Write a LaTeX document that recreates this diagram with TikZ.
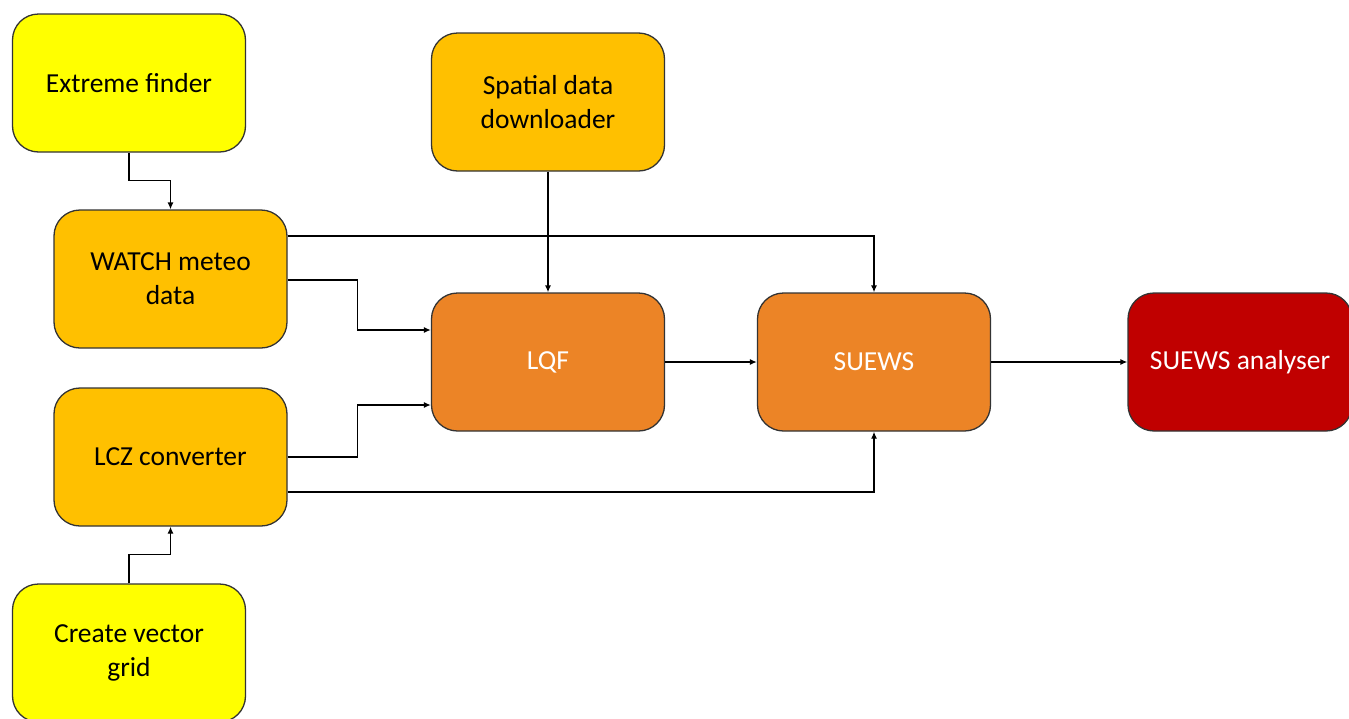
\documentclass[tikz,border=0pt]{standalone}
\usepackage{fontspec}
\setmainfont{Carlito}
\usetikzlibrary{arrows.meta,positioning}
\definecolor{tooly}{HTML}{FFFF00}
\definecolor{toolg}{HTML}{FFC000}
\definecolor{toolo}{HTML}{EC8426}
\definecolor{toolr}{HTML}{C00000}
\tikzstyle{arrow} = [line width=1.3pt,-{Latex[length=7pt,width=6pt]}]

\begin{document}
\begin{tikzpicture}[x=1pt,y=-1pt]
\tikzset{tool/.style={draw=black!80,line width=1.3pt,rounded corners=26pt,
    minimum width=233pt,minimum height=138pt,align=center,
    font=\fontsize{27.5}{34}\selectfont},
  yel/.style={tool,fill=tooly},
  gold/.style={tool,fill=toolg},
  orng/.style={tool,fill=toolo,text=white},
  dred/.style={tool,fill=toolr,text=white}}
\useasboundingbox (0,0) rectangle (1349,718);

\node[yel]  (extreme)  at (129,83)   {Extreme finder};
\node[gold] (spatial)  at (548,102)  {Spatial data\\downloader};
\node[gold] (watch)    at (170.5,279) {WATCH meteo\\data};
\node[orng] (lqf)      at (548,362)  {LQF};
\node[orng] (suews)    at (874,362)  {SUEWS};
\node[dred, minimum width=224pt] (analyser) at (1240,362) {SUEWS analyser};
\node[gold] (lcz)      at (170.5,457) {LCZ converter};
\node[yel]  (grid)     at (129,653)  {Create vector\\grid};

\draw [arrow] (extreme.south) -- ++(0,28) -| (watch.north);
\draw [arrow] (grid.north) -- ++(0,-29) -| (lcz.south);
\draw [arrow] ([yshift=43pt]watch.east) -| (suews.north);
\draw [arrow] ([yshift=-1pt]watch.east) -- ++(70,0) |- ([yshift=32pt]lqf.west);
\draw [arrow] (lcz.east) -- ++(70,0) |- ([yshift=-43pt]lqf.west);
\draw [arrow] ([yshift=-35pt]lcz.east) -| (suews.south);
\draw [arrow] (spatial) -- (lqf);
\draw [arrow] (lqf) -- (suews);
\draw [arrow] (suews) -- (analyser);
\end{tikzpicture}
\end{document}
